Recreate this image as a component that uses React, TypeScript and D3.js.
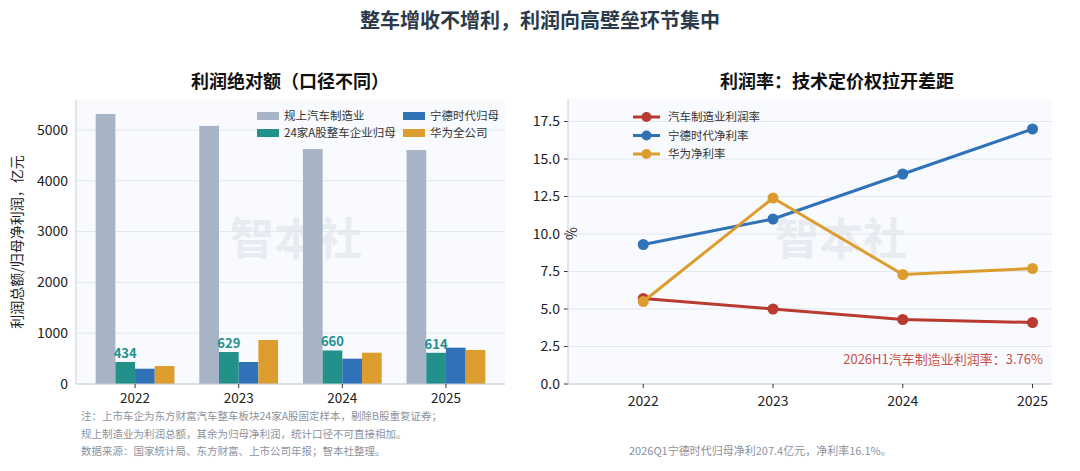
import React from 'react';
import * as d3 from 'd3';

const years = ['2022', '2023', '2024', '2025'];
const mfgProfit = [5315, 5080, 4625, 4605];
const autoA24 = [434, 629, 660, 614];
const catlProfit = [301, 433, 498, 715];
const huaweiProfit = [354, 866, 616, 670];
const mfgMargin = [5.7, 5.0, 4.3, 4.1];
const catlMargin = [9.3, 11.0, 14.0, 17.0];
const huaweiMargin = [5.5, 12.4, 7.3, 7.7];
const barTicks = [0, 1000, 2000, 3000, 4000, 5000];
const lineTicks = [0, 2.5, 5, 7.5, 10, 12.5, 15, 17.5];

const FONT = '"Noto Sans CJK SC", "Noto Sans", sans-serif';
const C = { gray: '#a7b4c6', teal: '#23908a', blue: '#2f72b8', gold: '#dc9d2e', red: '#b83a30' };

const barSeries = [
  { name: '规上汽车制造业', values: mfgProfit, color: C.gray },
  { name: '24家A股整车企业归母', values: autoA24, color: C.teal },
  { name: '宁德时代归母', values: catlProfit, color: C.blue },
  { name: '华为全公司', values: huaweiProfit, color: C.gold },
];
const lineSeries = [
  { name: '汽车制造业利润率', values: mfgMargin, color: C.red },
  { name: '宁德时代净利率', values: catlMargin, color: C.blue },
  { name: '华为净利率', values: huaweiMargin, color: C.gold },
];

const BarChart = () => {
  const L = 76, R = 505, T = 100, B = 384;
  const x = d3.scaleLinear().domain([-0.57, 3.57]).range([L, R]);
  const y = d3.scaleLinear().domain([0, 5590]).range([B, T]);
  const bw = x(0.19) - x(0);
  const legendPos = [[257, 116], [257, 133], [403, 116], [403, 133]];
  return (
    <g>
      <rect x={L} y={T} width={R - L} height={B - T} fill="#f8fafd" />
      {barTicks.map(t => (
        <g key={t}>
          <line x1={L} x2={R} y1={y(t)} y2={y(t)} stroke="#e2e8f0" />
          <text x={L - 8} y={y(t)} dy="0.35em" textAnchor="end" fontSize={14} fill="#222">{t}</text>
        </g>
      ))}
      <text x={230} y={255} fontSize={44} fontWeight="bold" fill="#dfe4ec" opacity={0.6}>智本社</text>
      {barSeries.map((s, si) =>
        s.values.map((v, i) => (
          <rect key={si + '-' + i} x={x(i) + (si - 2) * bw} y={y(v)} width={bw} height={B - y(v)} fill={s.color} />
        ))
      )}
      {autoA24.map((v, i) => (
        <text key={i} x={x(i) - bw / 2} y={y(v) - 4} textAnchor="middle" fontSize={13} fontWeight="bold" fill={C.teal}>{v}</text>
      ))}
      <line x1={L} x2={L} y1={T} y2={B} stroke="#c5cfdd" />
      <line x1={L} x2={R} y1={B} y2={B} stroke="#c5cfdd" />
      {years.map((yr, i) => (
        <g key={yr}>
          <line x1={x(i)} x2={x(i)} y1={B} y2={B + 4} stroke="#333" />
          <text x={x(i)} y={B + 19} textAnchor="middle" fontSize={13.5} fill="#222">{yr}</text>
        </g>
      ))}
      <text transform={`translate(22,${(T + B) / 2}) rotate(-90)`} textAnchor="middle" fontSize={14} fill="#222">利润总额/归母净利润，亿元</text>
      {barSeries.map((s, si) => {
        const [cx, cy] = legendPos[si];
        return (
          <g key={s.name}>
            <rect x={cx} y={cy - 4} width={22} height={8} fill={s.color} />
            <text x={cx + 27} y={cy} dy="0.35em" fontSize={11.5} fill="#333">{s.name}</text>
          </g>
        );
      })}
      <text x={290} y={88} textAnchor="middle" fontSize={18} fontWeight="bold" fill="#111">利润绝对额（口径不同）</text>
      {['注：上市车企为东方财富汽车整车板块24家A股固定样本，剔除B股重复证券；',
        '规上制造业为利润总额，其余为归母净利润，统计口径不可直接相加。',
        '数据来源：国家统计局、东方财富、上市公司年报；智本社整理。'].map((t, i) => (
        <text key={i} x={81} y={420 + i * 17.5} fontSize={10.5} fill="#8c929c">{t}</text>
      ))}
    </g>
  );
};

const LineChart = () => {
  const L = 568, R = 1052, T = 99, B = 384;
  const x = d3.scaleLinear().domain([-0.58, 3.15]).range([L, R]);
  const y = d3.scaleLinear().domain([0, 19]).range([B, T]);
  const line = d3.line<number>().x((_, i) => x(i)).y(d => y(d));
  return (
    <g>
      <rect x={L} y={T} width={R - L} height={B - T} fill="#f8fafd" />
      {lineTicks.map(t => (
        <g key={t}>
          <line x1={L} x2={R} y1={y(t)} y2={y(t)} stroke="#e2e8f0" />
          <line x1={L - 4} x2={L} y1={y(t)} y2={y(t)} stroke="#333" />
          <text x={L - 8} y={y(t)} dy="0.35em" textAnchor="end" fontSize={14} fill="#222">{t.toFixed(1)}</text>
        </g>
      ))}
      <text x={775} y={255} fontSize={44} fontWeight="bold" fill="#dfe4ec" opacity={0.6}>智本社</text>
      {lineSeries.map(s => (
        <g key={s.name}>
          <path d={line(s.values) ?? ''} fill="none" stroke={s.color} strokeWidth={3} />
          {s.values.map((v, i) => <circle key={i} cx={x(i)} cy={y(v)} r={5.5} fill={s.color} />)}
        </g>
      ))}
      <line x1={L} x2={L} y1={T} y2={B} stroke="#c5cfdd" />
      <line x1={L} x2={R} y1={B} y2={B} stroke="#c5cfdd" />
      {years.map((yr, i) => (
        <g key={yr}>
          <line x1={x(i)} x2={x(i)} y1={B} y2={B + 4} stroke="#333" />
          <text x={x(i)} y={B + 22} textAnchor="middle" fontSize={14} fill="#222">{yr}</text>
        </g>
      ))}
      <text transform={`translate(577,${(T + B) / 2 - 8}) rotate(-90)`} textAnchor="middle" fontSize={14} fill="#222">%</text>
      {lineSeries.map((s, i) => (
        <g key={s.name}>
          <line x1={633} x2={660} y1={117 + i * 18.5} y2={117 + i * 18.5} stroke={s.color} strokeWidth={3} />
          <circle cx={646.5} cy={117 + i * 18.5} r={5} fill={s.color} />
          <text x={668} y={117 + i * 18.5} dy="0.35em" fontSize={11.5} fill="#333">{s.name}</text>
        </g>
      ))}
      <text x={1043} y={359} dy="0.35em" textAnchor="end" fontSize={13} fill="#c8504a">2026H1汽车制造业利润率：3.76%</text>
      <text x={837} y={88} textAnchor="middle" fontSize={18} fontWeight="bold" fill="#111">利润率：技术定价权拉开差距</text>
      <text x={629} y={455} fontSize={11} fill="#8c929c">2026Q1宁德时代归母净利207.4亿元，净利率16.1%。</text>
    </g>
  );
};

export default function App() {
  return (
    <svg width={1080} height={471} style={{ position: 'fixed', top: 0, left: 0, background: '#fff' }} fontFamily={FONT}>
      <text x={540} y={28} textAnchor="middle" fontSize={20} fontWeight="bold" fill="#2b3a4a">整车增收不增利，利润向高壁垒环节集中</text>
      <BarChart />
      <LineChart />
    </svg>
  );
}
